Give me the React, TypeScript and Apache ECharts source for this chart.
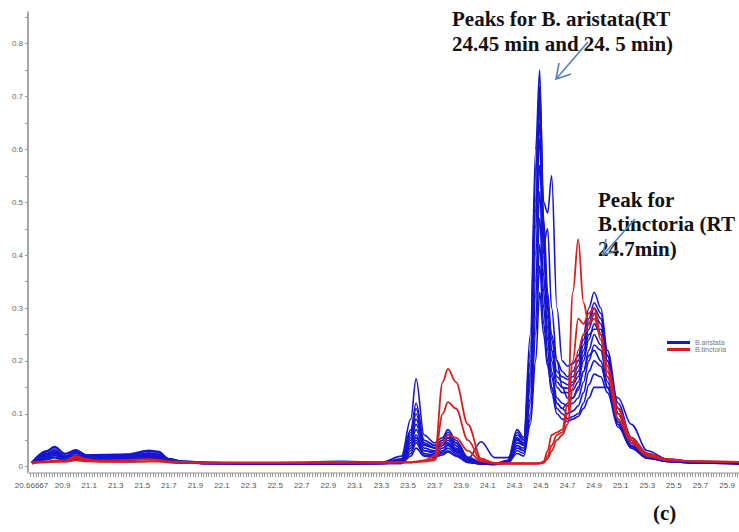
import React, { useEffect, useRef } from "react";
import * as echarts from "echarts";

// Retention time grid (min)
const T = [20.67, 20.78, 20.84, 20.92, 21.0, 21.08, 21.2, 21.4, 21.55, 21.62, 21.7, 21.8, 22.0, 22.5, 23.0, 23.3,
  23.45, 23.52, 23.56, 23.62, 23.7, 23.76, 23.8, 23.86, 23.95, 24.05, 24.15, 24.25, 24.32, 24.37, 24.42, 24.46,
  24.49, 24.52, 24.55, 24.58, 24.62, 24.66, 24.7, 24.74, 24.78, 24.82, 24.86, 24.9, 24.95, 25.0, 25.08, 25.18,
  25.3, 25.45, 25.65, 26.0];

// B. aristata traces
const B1 = [0.008, 0.03, 0.038, 0.025, 0.032, 0.022, 0.022, 0.023, 0.03, 0.028, 0.015, 0.01, 0.008, 0.006, 0.007, 0.008,
  0.02, 0.09, 0.166, 0.06, 0.045, 0.055, 0.07, 0.05, 0.018, 0.008, 0.006, 0.012, 0.07, 0.055, 0.25, 0.6, 0.75, 0.45, 0.3, 0.25,
  0.2, 0.18, 0.17, 0.18, 0.2, 0.25, 0.3, 0.33, 0.3, 0.22, 0.12, 0.055, 0.025, 0.014, 0.01, 0.008];
const B2 = [0.008, 0.025, 0.032, 0.02, 0.028, 0.02, 0.02, 0.02, 0.026, 0.024, 0.012, 0.009, 0.007, 0.006, 0.006, 0.007,
  0.015, 0.07, 0.12, 0.05, 0.04, 0.05, 0.06, 0.045, 0.015, 0.007, 0.006, 0.01, 0.06, 0.05, 0.2, 0.55, 0.72, 0.5, 0.48, 0.55,
  0.3, 0.2, 0.19, 0.195, 0.21, 0.24, 0.28, 0.31, 0.29, 0.21, 0.11, 0.05, 0.022, 0.013, 0.009, 0.007];
const B3 = [0.008, 0.028, 0.036, 0.024, 0.03, 0.021, 0.021, 0.022, 0.029, 0.027, 0.014, 0.01, 0.008, 0.006, 0.01, 0.008,
  0.012, 0.06, 0.1, 0.045, 0.035, 0.045, 0.055, 0.04, 0.013, 0.006, 0.005, 0.01, 0.055, 0.045, 0.18, 0.5, 0.68, 0.42, 0.3, 0.22,
  0.17, 0.16, 0.155, 0.16, 0.18, 0.22, 0.26, 0.29, 0.27, 0.2, 0.1, 0.045, 0.02, 0.012, 0.008, 0.007];
const B4 = [0.007, 0.02, 0.026, 0.016, 0.022, 0.016, 0.017, 0.018, 0.022, 0.02, 0.011, 0.008, 0.006, 0.005, 0.006, 0.006,
  0.01, 0.05, 0.08, 0.04, 0.035, 0.04, 0.05, 0.035, 0.012, 0.006, 0.005, 0.009, 0.05, 0.04, 0.16, 0.45, 0.62, 0.4, 0.28, 0.2,
  0.15, 0.14, 0.14, 0.145, 0.16, 0.2, 0.24, 0.27, 0.25, 0.19, 0.1, 0.045, 0.02, 0.012, 0.008, 0.006];
const B5 = [0.008, 0.024, 0.03, 0.019, 0.027, 0.019, 0.02, 0.021, 0.025, 0.023, 0.012, 0.009, 0.007, 0.006, 0.007, 0.007,
  0.01, 0.045, 0.07, 0.035, 0.03, 0.04, 0.045, 0.032, 0.011, 0.006, 0.005, 0.009, 0.045, 0.04, 0.15, 0.4, 0.57, 0.42, 0.45, 0.3,
  0.2, 0.15, 0.13, 0.13, 0.145, 0.18, 0.22, 0.25, 0.23, 0.17, 0.09, 0.04, 0.018, 0.011, 0.008, 0.006];
const B6 = [0.007, 0.019, 0.025, 0.015, 0.021, 0.015, 0.016, 0.017, 0.021, 0.019, 0.01, 0.008, 0.006, 0.005, 0.006, 0.006,
  0.008, 0.04, 0.06, 0.03, 0.028, 0.035, 0.042, 0.03, 0.01, 0.005, 0.005, 0.008, 0.04, 0.035, 0.13, 0.35, 0.52, 0.36, 0.26, 0.18,
  0.13, 0.12, 0.115, 0.12, 0.13, 0.16, 0.2, 0.23, 0.22, 0.16, 0.085, 0.04, 0.018, 0.01, 0.007, 0.006];
const B7 = [0.006, 0.014, 0.018, 0.012, 0.015, 0.012, 0.012, 0.013, 0.016, 0.015, 0.009, 0.007, 0.006, 0.005, 0.005, 0.006,
  0.008, 0.035, 0.055, 0.03, 0.025, 0.03, 0.04, 0.028, 0.015, 0.047, 0.017, 0.017, 0.04, 0.03, 0.12, 0.32, 0.47, 0.33, 0.24, 0.17,
  0.12, 0.11, 0.1, 0.105, 0.115, 0.14, 0.18, 0.2, 0.19, 0.15, 0.08, 0.038, 0.017, 0.01, 0.007, 0.006];
const B8 = [0.007, 0.022, 0.028, 0.018, 0.025, 0.018, 0.019, 0.019, 0.024, 0.022, 0.011, 0.009, 0.007, 0.006, 0.006, 0.007,
  0.007, 0.03, 0.05, 0.025, 0.022, 0.028, 0.035, 0.025, 0.009, 0.005, 0.004, 0.008, 0.035, 0.03, 0.1, 0.28, 0.42, 0.3, 0.22, 0.15,
  0.11, 0.1, 0.09, 0.095, 0.1, 0.12, 0.155, 0.175, 0.17, 0.14, 0.075, 0.035, 0.016, 0.01, 0.007, 0.005];
const B9 = [0.006, 0.013, 0.017, 0.011, 0.014, 0.011, 0.011, 0.012, 0.015, 0.014, 0.008, 0.007, 0.006, 0.005, 0.005, 0.006,
  0.006, 0.025, 0.045, 0.022, 0.02, 0.025, 0.03, 0.022, 0.008, 0.005, 0.004, 0.007, 0.03, 0.025, 0.09, 0.25, 0.38, 0.27, 0.2, 0.14,
  0.1, 0.09, 0.085, 0.09, 0.095, 0.11, 0.13, 0.15, 0.15, 0.15, 0.13, 0.08, 0.03, 0.014, 0.009, 0.006];
const B10 = [0.006, 0.016, 0.021, 0.013, 0.017, 0.013, 0.014, 0.015, 0.018, 0.017, 0.009, 0.007, 0.006, 0.005, 0.005, 0.006,
  0.006, 0.02, 0.035, 0.02, 0.018, 0.022, 0.028, 0.02, 0.008, 0.005, 0.004, 0.007, 0.025, 0.02, 0.08, 0.2, 0.33, 0.25, 0.19, 0.15,
  0.12, 0.11, 0.12, 0.13, 0.15, 0.18, 0.21, 0.22, 0.2, 0.15, 0.08, 0.035, 0.016, 0.01, 0.007, 0.005];
const B11 = [0.008, 0.029, 0.037, 0.024, 0.031, 0.022, 0.023, 0.024, 0.031, 0.029, 0.015, 0.01, 0.008, 0.007, 0.008, 0.008,
  0.014, 0.065, 0.11, 0.05, 0.04, 0.05, 0.065, 0.045, 0.014, 0.007, 0.006, 0.011, 0.065, 0.05, 0.22, 0.56, 0.7, 0.47, 0.33, 0.24,
  0.18, 0.17, 0.165, 0.17, 0.19, 0.23, 0.27, 0.3, 0.28, 0.21, 0.11, 0.05, 0.022, 0.013, 0.009, 0.007];
const B12 = [0.007, 0.018, 0.023, 0.014, 0.019, 0.014, 0.015, 0.016, 0.019, 0.018, 0.01, 0.008, 0.006, 0.005, 0.006, 0.006,
  0.011, 0.055, 0.09, 0.042, 0.036, 0.045, 0.055, 0.04, 0.012, 0.006, 0.005, 0.01, 0.052, 0.042, 0.17, 0.48, 0.65, 0.43, 0.31, 0.22,
  0.16, 0.15, 0.148, 0.155, 0.17, 0.21, 0.25, 0.26, 0.26, 0.2, 0.1, 0.045, 0.02, 0.012, 0.008, 0.006];

// B. tinctoria traces
const R1 = [0.008, 0.01, 0.012, 0.012, 0.02, 0.014, 0.01, 0.009, 0.01, 0.01, 0.009, 0.008, 0.007, 0.007, 0.008, 0.008,
  0.008, 0.008, 0.01, 0.012, 0.02, 0.16, 0.185, 0.16, 0.08, 0.015, 0.007, 0.006, 0.006, 0.006, 0.006, 0.006, 0.007, 0.01, 0.03, 0.06,
  0.065, 0.07, 0.12, 0.33, 0.43, 0.31, 0.27, 0.29, 0.24, 0.17, 0.09, 0.045, 0.02, 0.012, 0.01, 0.009];
const R2 = [0.007, 0.009, 0.01, 0.011, 0.016, 0.012, 0.012, 0.013, 0.014, 0.013, 0.01, 0.009, 0.008, 0.008, 0.009, 0.008,
  0.008, 0.008, 0.009, 0.01, 0.015, 0.1, 0.122, 0.11, 0.05, 0.012, 0.006, 0.006, 0.006, 0.006, 0.006, 0.006, 0.006, 0.008, 0.02, 0.04,
  0.06, 0.065, 0.1, 0.2, 0.28, 0.27, 0.29, 0.3, 0.25, 0.18, 0.1, 0.05, 0.022, 0.013, 0.01, 0.009];
const R3 = [0.006, 0.008, 0.009, 0.009, 0.012, 0.01, 0.009, 0.009, 0.01, 0.01, 0.008, 0.007, 0.007, 0.007, 0.007, 0.007,
  0.008, 0.008, 0.009, 0.01, 0.012, 0.045, 0.06, 0.055, 0.03, 0.01, 0.006, 0.006, 0.006, 0.006, 0.006, 0.006, 0.006, 0.007, 0.015, 0.03,
  0.05, 0.06, 0.08, 0.15, 0.22, 0.25, 0.27, 0.28, 0.25, 0.19, 0.11, 0.055, 0.025, 0.014, 0.01, 0.009];

const BLUE_TRACES = [B10, B9, B8, B7, B6, B5, B4, B12, B3, B11, B2, B1];
const RED_TRACES = [R3, R2, R1];

const X_LABEL_VALUES = [20.66667, 20.9, 21.1, 21.3, 21.5, 21.7, 21.9, 22.1, 22.3, 22.5, 22.7, 22.9, 23.1, 23.3,
  23.5, 23.7, 23.9, 24.1, 24.3, 24.5, 24.7, 24.9, 25.1, 25.3, 25.5, 25.7, 25.9];
const X_LABEL_TEXTS = ["20.66667", "20.9", "21.1", "21.3", "21.5", "21.7", "21.9", "22.1", "22.3", "22.5", "22.7", "22.9",
  "23.1", "23.3", "23.5", "23.7", "23.9", "24.1", "24.3", "24.5", "24.7", "24.9", "25.1", "25.3", "25.5", "25.7", "25.9"];
const Y_LABEL_VALUES = [0, 0.1, 0.2, 0.3, 0.4, 0.5, 0.6, 0.7, 0.8];
const Y_TICK_VALUES = [0, 0.05, 0.1, 0.15, 0.2, 0.25, 0.3, 0.35, 0.4, 0.45, 0.5, 0.55, 0.6, 0.65, 0.7, 0.75, 0.8, 0.85];

const BLUE = "#1616d0";
const RED = "#d81e1e";
const ARROW = "#4f81bd";

export default function App() {
  const ref = useRef<HTMLDivElement>(null);
  useEffect(() => {
    if (!ref.current) return;
    const chart = echarts.init(ref.current, null, { renderer: "svg" });

    const xTicks: number[] = [];
    for (let i = 0; i <= 266; i++) xTicks.push(+(20.66 + i * 0.02).toFixed(2));

    const mk = (name: string, arr: number[], color: string, width: number) => ({
      name,
      type: "line",
      data: T.map((t, i) => [t, arr[i]]),
      showSymbol: false,
      symbol: "none",
      smooth: 0.35,
      smoothMonotone: "x",
      color,
      itemStyle: { color },
      lineStyle: { color, width },
      emphasis: { disabled: true },
      silent: true,
    });

    const series: any[] = [
      ...BLUE_TRACES.map((a) => mk("B.aristata", a, BLUE, 1.6)),
      ...RED_TRACES.map((a) => mk("B.tinctoria", a, RED, 1.8)),
    ];

    const serif = "'Liberation Serif', 'DejaVu Serif', serif";
    const textStyle = (x: number, y: number, text: string) => ({
      type: "text",
      x,
      y,
      z: 10,
      style: {
        text,
        fill: "#111",
        font: `bold 21px ${serif}`,
        textVerticalAlign: "middle",
        verticalAlign: "middle",
      },
    });

    chart.setOption({
      animation: false,
      backgroundColor: "#ffffff",
      grid: { left: 28, right: 0, top: 12, bottom: 59, containLabel: false, outerBoundsMode: "none" },
      legend: {
        data: ["B.aristata", "B.tinctoria"],
        orient: "vertical",
        left: 667,
        top: 339,
        padding: 0,
        itemWidth: 23,
        itemHeight: 3,
        itemGap: 0,
        icon: "rect",
        textStyle: { fontSize: 7, color: "#777", fontFamily: "Liberation Sans", lineHeight: 7 },
        selectedMode: false,
      },
      xAxis: {
        type: "value",
        min: 20.64,
        max: 25.99,
        axisLine: { show: true, onZero: false, lineStyle: { color: "#c8c8c8", width: 2 } },
        axisTick: { show: true, customValues: xTicks, length: 4, lineStyle: { color: "#9a9a9a", width: 1 } },
        axisLabel: {
          customValues: X_LABEL_VALUES,
          formatter: (v: number) => {
            const i = X_LABEL_VALUES.findIndex((x) => Math.abs(x - v) < 1e-6);
            return i >= 0 ? X_LABEL_TEXTS[i] : "";
          },
          fontSize: 8,
          color: "#555",
          fontFamily: "Liberation Sans",
          margin: 8,
        },
        splitLine: { show: false },
      },
      yAxis: {
        type: "value",
        min: -0.012,
        max: 0.86,
        axisLine: { show: true, lineStyle: { color: "#8a8a8a", width: 1.5 } },
        axisTick: { show: true, customValues: Y_TICK_VALUES, length: 3, lineStyle: { color: "#999" } },
        axisLabel: {
          customValues: Y_LABEL_VALUES,
          fontSize: 8,
          color: "#666",
          fontFamily: "Liberation Sans",
          margin: 5,
        },
        splitLine: { show: false },
      },
      graphic: [
        textStyle(452, 19, "Peaks for B. aristata(RT"),
        textStyle(452, 44, "24.45 min and 24. 5 min)"),
        textStyle(598, 200, "Peak for"),
        textStyle(598, 224, "B.tinctoria (RT"),
        textStyle(598, 249, "24.7min)"),
        textStyle(653, 513, "(c)"),
        { type: "line", z: 20, shape: { x1: 588, y1: 42, x2: 556, y2: 79 }, style: { stroke: ARROW, lineWidth: 1.6 } },
        { type: "polyline", z: 20, shape: { points: [[571, 74], [556, 79], [559, 63]] }, style: { stroke: ARROW, lineWidth: 1.6, fill: null } },
        { type: "line", z: 20, shape: { x1: 635, y1: 219, x2: 603, y2: 255 }, style: { stroke: ARROW, lineWidth: 1.6 } },
        { type: "polyline", z: 20, shape: { points: [[618, 250], [603, 255], [606, 239]] }, style: { stroke: ARROW, lineWidth: 1.6, fill: null } },
      ],
      series,
    });
    return () => chart.dispose();
  }, []);
  return (
    <div
      ref={ref}
      style={{ position: "absolute", left: 0, top: 0, width: 739, height: 532, background: "#fff" }}
    />
  );
}
